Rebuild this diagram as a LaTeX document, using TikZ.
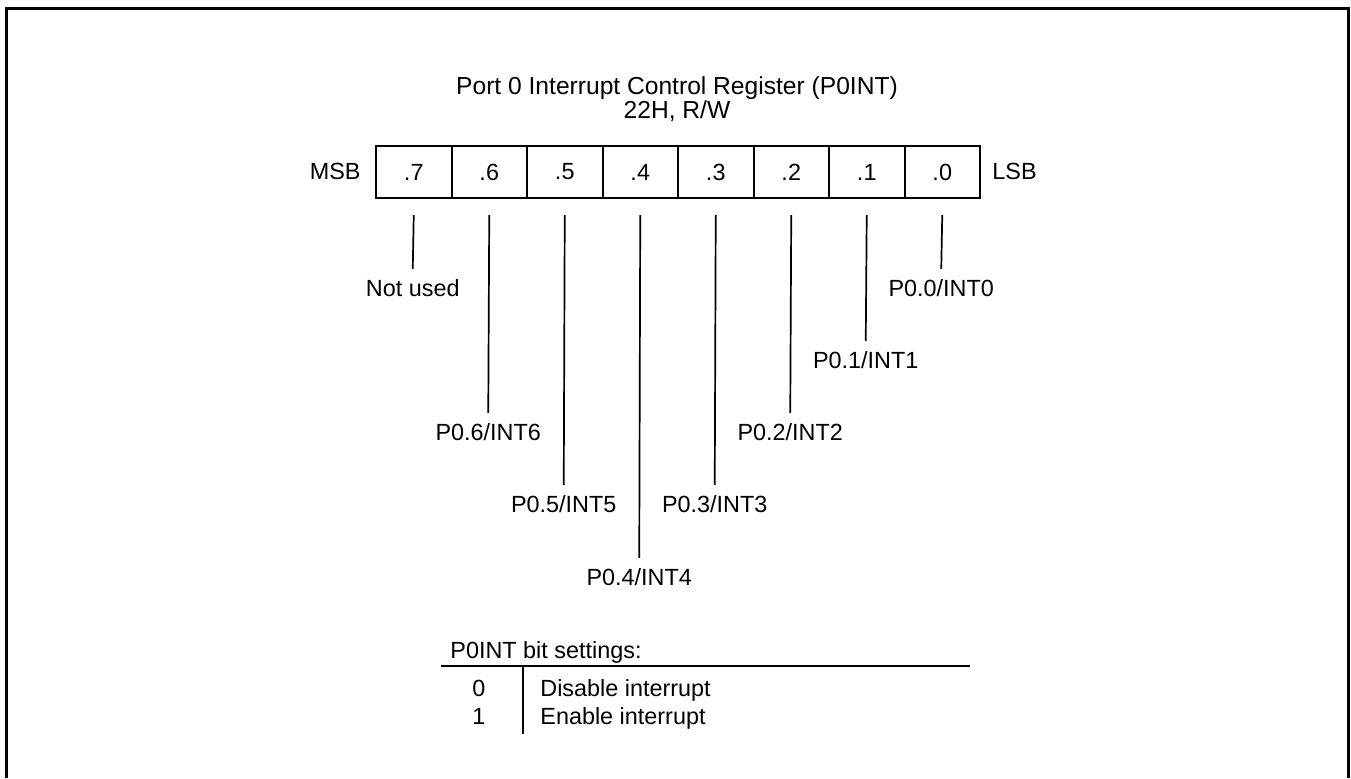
\documentclass[tikz,border=0pt]{standalone}
\usepackage{fontspec}
\setmainfont{Liberation Sans}
\begin{document}
\begin{tikzpicture}[x=0.5pt,y=-0.5pt,
  every node/.style={font=\fontsize{11.7}{14}\selectfont, inner sep=0pt},
  titletext/.style={anchor=base, font=\fontsize{12.3}{15}\selectfont},
  cell/.style={draw, line width=1pt, minimum width=37.75pt, minimum height=26pt, anchor=north west},
  lbl/.style={anchor=base, text height=8.4pt, text depth=0pt},
  leader/.style={line width=0.85pt},
  rule/.style={line width=1pt},
  frame/.style={line width=1.5pt}]
\useasboundingbox (0,0) rectangle (1351,778);
\draw[frame] (6.5,778) -- (6.5,8.5) -- (1348,8.5) -- (1348,778);
% title
\node[titletext] (t1) at (677,94) {Port 0 Interrupt Control Register (P0INT)};
\node[titletext] (t2) at (677,118) {22H, R/W};
% register cells
\foreach \k in {0,...,7} {
  \pgfmathtruncatemacro\bb{7-\k}
  \node[cell] (b\bb) at ({375+75.5*\k},145) {.\bb};
}
\node[anchor=east] (msb) at (361,171) {MSB};
\node[anchor=west] (lsb) at (992,171) {LSB};
% labels
\node[lbl] (l7) at (412.75,296) {Not used};
\node[lbl] (l0) at (941.25,296) {P0.0/INT0};
\node[lbl] (l1) at (865.75,368) {P0.1/INT1};
\node[lbl] (l6) at (488.25,440) {P0.6/INT6};
\node[lbl] (l2) at (790.25,440) {P0.2/INT2};
\node[lbl] (l5) at (563.75,512) {P0.5/INT5};
\node[lbl] (l3) at (714.75,512) {P0.3/INT3};
\node[lbl] (l4) at (639.25,585) {P0.4/INT4};
\foreach \i in {0,...,7} {
  \draw[leader] ([yshift=-8pt]b\i.south) -- ([yshift=5pt]l\i.north);
}
% legend
\node[anchor=base west] (lt) at (450,658) {P0INT bit settings:};
\coordinate (rl) at (441,666);
\coordinate (rr) at (970,666);
\coordinate (vt) at (523,666);
\coordinate (vb) at (523,734);
\draw[rule] (rl) -- (rr);
\draw[rule] (vt) -- (vb);
\node[anchor=base] (v0) at (479,696) {0};
\node[anchor=base] (v1) at (479,724) {1};
\node[anchor=base west] (d0) at (540,696) {Disable interrupt};
\node[anchor=base west] (d1) at (540,724) {Enable interrupt};
\end{tikzpicture}
\end{document}
